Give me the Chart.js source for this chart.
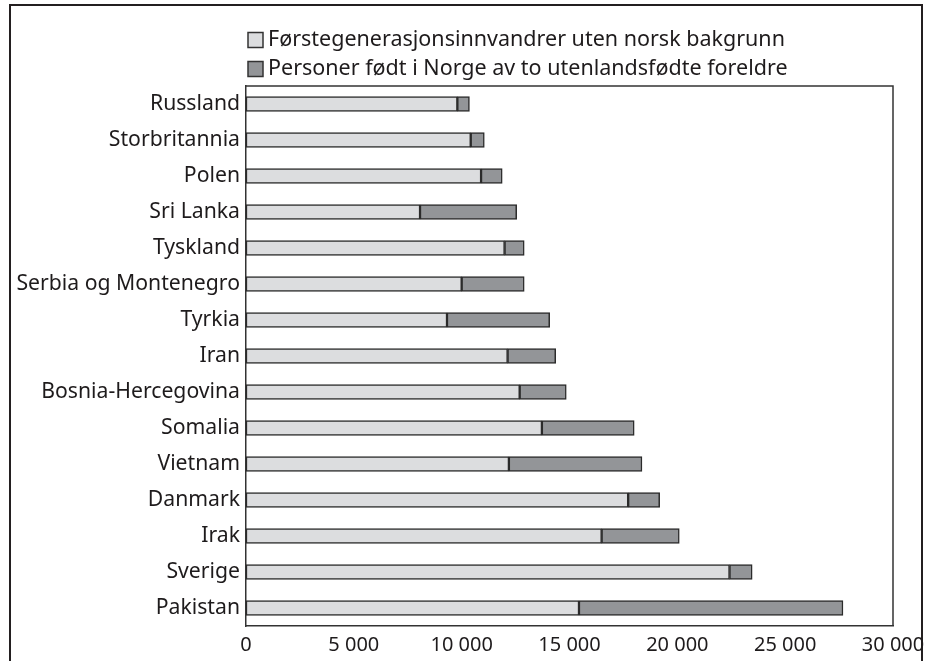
<!DOCTYPE html>
<html>
<head>
<meta charset="utf-8">
<script src="https://cdn.jsdelivr.net/npm/chart.js@4.4.1/dist/chart.umd.min.js"></script>
<style>
  html,body{margin:0;padding:0;background:#fff;}
  #wrap{position:relative;width:925px;height:661px;overflow:hidden;}
  #frame{position:absolute;left:9px;top:4px;width:914px;height:680px;border:2px solid #231f20;box-sizing:border-box;}
  canvas{position:absolute;left:0;top:0;}
</style>
</head>
<body>
<div id="wrap">
  <div id="frame"></div>
  <canvas id="c" width="925" height="661"></canvas>
</div>
<script>
const categories = ["Russland","Storbritannia","Polen","Sri Lanka","Tyskland","Serbia og Montenegro","Tyrkia","Iran","Bosnia-Hercegovina","Somalia","Vietnam","Danmark","Irak","Sverige","Pakistan"];
const firstGen = [9800,10420,10900,8070,11990,10000,9320,12130,12690,13720,12190,17720,16490,22420,15440];
const bornInNorway = [560,630,980,4480,910,2900,4760,2230,2160,4280,6170,1460,3600,1050,12240];
const seriesLabels = ["Førstegenerasjonsinnvandrer uten norsk bakgrunn","Personer født i Norge av to utenlandsfødte foreldre"];
const xTicks = [0,5000,10000,15000,20000,25000,30000];

const FONT = "'Noto Sans', 'Open Sans', sans-serif";
const TEXT = '#1e1b1c';

const legendPlugin = {
  id:'customLegend',
  afterDraw(chart){
    const ctx = chart.ctx;
    ctx.save();
    const x = 248;
    const ys = [40, 69];
    chart.data.datasets.forEach((ds,i)=>{
      ctx.fillStyle = ds.backgroundColor;
      ctx.strokeStyle = '#333';
      ctx.lineWidth = 1.5;
      ctx.fillRect(x, ys[i]-7.5, 15, 15);
      ctx.strokeRect(x, ys[i]-7.5, 15, 15);
      ctx.fillStyle = TEXT;
      ctx.font = "21.5px " + FONT;
      ctx.textBaseline = 'middle';
      ctx.textAlign = 'left';
      ctx.fillText(ds.label, x+20, ys[i]);
    });
    ctx.restore();
  }
};

const boxPlugin = {
  id:'plotBox',
  afterDatasetsDraw(chart){
    const a = chart.chartArea, ctx = chart.ctx;
    ctx.save();
    ctx.strokeStyle = '#333';
    ctx.lineWidth = 1.5;
    ctx.beginPath();
    ctx.moveTo(a.left, a.top); ctx.lineTo(a.right, a.top); ctx.lineTo(a.right, a.bottom);
    ctx.stroke();
    ctx.restore();
  }
};

new Chart(document.getElementById('c'), {
  type:'bar',
  data:{
    labels: categories,
    datasets:[
      {label: seriesLabels[0], data: firstGen, backgroundColor:'#dcdddf', borderColor:'#2b2b2b', borderWidth:1.5, barThickness:15, borderSkipped:false},
      {label: seriesLabels[1], data: bornInNorway, backgroundColor:'#939598', borderColor:'#2b2b2b', borderWidth:1.5, barThickness:15, borderSkipped:false}
    ]
  },
  options:{
    indexAxis:'y',
    responsive:false,
    animation:false,
    devicePixelRatio:1,
    layout:{padding:{left:0, top:86, right:32, bottom:0}},
    plugins:{legend:{display:false}, tooltip:{enabled:false}},
    scales:{
      x:{
        stacked:true, min:0, max:30000,
        afterBuildTicks(s){ s.ticks = xTicks.map(v=>({value:v})); },
        grid:{display:false, drawTicks:true, tickLength:7, color:'#333'},
        border:{display:true, color:'#333', width:1.5},
        ticks:{color:TEXT, font:{family:FONT, size:20}, padding:0, maxRotation:0,
          callback:(v)=> v===0 ? '0' : String(v).replace(/\B(?=(\d{3})+(?!\d))/g,' ')},
        afterFit(s){ s.height = 35; }
      },
      y:{
        stacked:true,
        grid:{display:false, drawTicks:false},
        border:{display:true, color:'#333', width:1.5},
        ticks:{color:TEXT, font:{family:FONT, size:21.2}, padding:6},
        afterFit(s){ s.width = 246; }
      }
    }
  },
  plugins:[legendPlugin, boxPlugin]
});
</script>
</body>
</html>
